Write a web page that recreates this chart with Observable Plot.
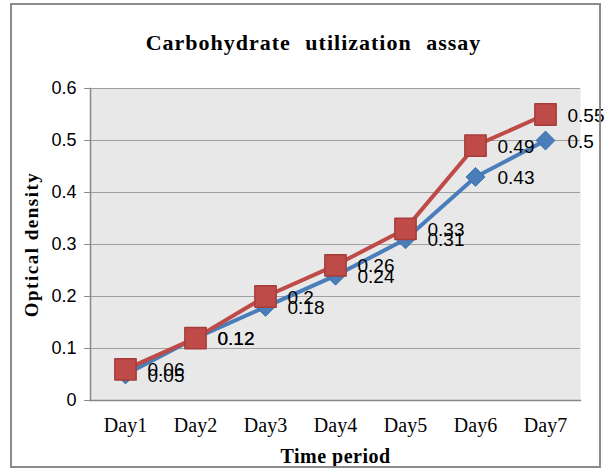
<!DOCTYPE html>
<html><head><meta charset="utf-8">
<script src="https://cdn.jsdelivr.net/npm/d3@7"></script>
<script src="https://cdn.jsdelivr.net/npm/@observablehq/plot@0.6"></script>
<style>
body{margin:0;background:#fff;}
#wrap{position:relative;width:614px;height:475px;}
#border{position:absolute;left:10px;top:3px;width:591px;height:465px;border:2px solid #8c8c8c;box-sizing:border-box;pointer-events:none;}
svg{font-family:"Liberation Serif","Times New Roman",serif;}
</style></head>
<body><div id="wrap"><div id="border"></div></div>
<script>
const days = ["Day1","Day2","Day3","Day4","Day5","Day6","Day7"];
const seriesA = [0.05,0.12,0.18,0.24,0.31,0.43,0.5];   // blue diamonds
const seriesB = [0.06,0.12,0.2,0.26,0.33,0.49,0.55];   // red squares
const yTicks = [0,0.1,0.2,0.3,0.4,0.5,0.6];
const title = "Carbohydrate utilization assay";
const xTitle = "Time period";
const yTitle = "Optical density";

const A = days.map((d,i)=>({day:d, v:seriesA[i]}));
const B = days.map((d,i)=>({day:d, v:seriesB[i]}));
const blue = "#4a7ebb", red = "#be4b48";
const sans = '"Liberation Sans", Arial, sans-serif';
const serif = '"Liberation Serif","Times New Roman",serif';

const chart = Plot.plot({
  width: 614, height: 475,
  marginTop: 88, marginBottom: 75, marginLeft: 90, marginRight: 34,
  style: {fontFamily: serif, fontSize: "20px", color: "#000", background: "transparent"},
  x: {type: "band", domain: days, padding: 0, label: null},
  y: {domain: [0, 0.6], label: null},
  marks: [
    Plot.frame({fill: "#e8e8e8", stroke: null}),
    Plot.ruleY(yTicks.slice(1), {stroke: "#a0a0a0", strokeWidth: 1.2}),
    Plot.axisY({ticks: yTicks, tickFormat: d => String(d), tickSize: 6, tickPadding: 8, stroke: "#888", fontSize: 18, fontFamily: sans, label: null}),
    Plot.axisX({tickSize: 0, tickPadding: 17, fontSize: 20, label: null}),
    Plot.frame({anchor: "left", stroke: "#888", strokeWidth: 1.5}),
    Plot.frame({anchor: "bottom", stroke: "#888", strokeWidth: 1.5}),
    Plot.line(A, {x: "day", y: "v", stroke: blue, strokeWidth: 4}),
    Plot.line(B, {x: "day", y: "v", stroke: red, strokeWidth: 4}),
    Plot.dot(A, {x: "day", y: "v", symbol: "diamond2", r: 8.5, fill: blue, stroke: "#3d6fa8", strokeWidth: 1}),
    Plot.dot(B, {x: "day", y: "v", symbol: "square", r: 12, fill: red, stroke: "#a53d3a", strokeWidth: 1.5, strokeLinejoin: "round"}),
    Plot.text(A, {x: "day", y: "v", text: d => String(d.v), dx: 22, dy: 1, textAnchor: "start", fontSize: 19, fontFamily: sans, fill: "#000"}),
    Plot.text(B, {x: "day", y: "v", text: d => String(d.v), dx: 22, dy: 1, textAnchor: "start", fontSize: 19, fontFamily: sans, fill: "#000"}),
    Plot.text([title], {frameAnchor: "top", dy: -46, dx: -22, lineAnchor: "middle", textAnchor: "middle", fontSize: 22, fontWeight: "bold", fill: "#000"}),
    Plot.text([xTitle], {frameAnchor: "bottom", dy: 56, lineAnchor: "middle", textAnchor: "middle", fontSize: 20, fontWeight: "bold", fill: "#000"}),
    Plot.text([yTitle], {frameAnchor: "left", dx: -59, rotate: -90, lineAnchor: "middle", textAnchor: "middle", fontSize: 19, fontWeight: "bold", fill: "#000"})
  ]
});
document.getElementById("wrap").prepend(chart);
d3.select(chart).selectAll("text").each(function(){
  const t = this.textContent;
  if (t === title) d3.select(this).style("letter-spacing","1px").style("word-spacing","8px");
  if (t === yTitle) d3.select(this).style("letter-spacing","1.5px");
  if (t === xTitle) d3.select(this).style("letter-spacing","0.5px");
});
</script></body></html>
